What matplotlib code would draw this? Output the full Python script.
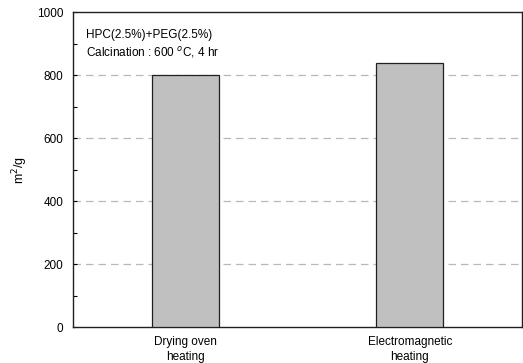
import matplotlib
matplotlib.use("Agg")
import matplotlib.pyplot as plt
from matplotlib.ticker import MultipleLocator

categories = ["Drying oven\nheating", "Electromagnetic\nheating"]
values = [800, 840]
yticks = [0, 200, 400, 600, 800, 1000]

plt.rcParams['font.family'] = ['Liberation Sans', 'DejaVu Sans']
fig = plt.figure(figsize=(5.23, 3.63), dpi=100)
ax = fig.add_axes([0.1396, 0.0978, 0.8584, 0.8678])

x = [0.5, 1.5]
ax.bar(x, values, width=0.30, color='#c0c0c0', edgecolor='#202020', linewidth=0.9, zorder=3)
ax.set_xlim(0, 2)
ax.set_ylim(0, 1000)
ax.set_yticks(yticks)
ax.set_yticklabels([str(v) for v in yticks], fontsize=8.5)
ax.yaxis.set_minor_locator(MultipleLocator(100))
ax.tick_params(axis='y', which='both', direction='in', length=3, width=0.8, pad=7)
ax.set_xticks(x)
ax.set_xticklabels(categories, fontsize=8.5, linespacing=1.38)
ax.tick_params(axis='x', length=0, pad=6)
for g in [200, 400, 600, 800]:
    ax.axhline(g, color='#b8b8b8', linestyle=(0, (6, 4)), linewidth=0.9, zorder=1)
for s in ax.spines.values():
    s.set_linewidth(1.0)
    s.set_color('#202020')
ax.set_ylabel("m$^2$/g", fontsize=9, labelpad=5)
ax.text(0.029, 0.929, "HPC(2.5%)+PEG(2.5%)", transform=ax.transAxes, fontsize=8.5, va='center')
ax.text(0.029, 0.872, "Calcination : 600 $^o$C, 4 hr", transform=ax.transAxes, fontsize=8.5, va='center')
fig.savefig("out.png", dpi=100)
